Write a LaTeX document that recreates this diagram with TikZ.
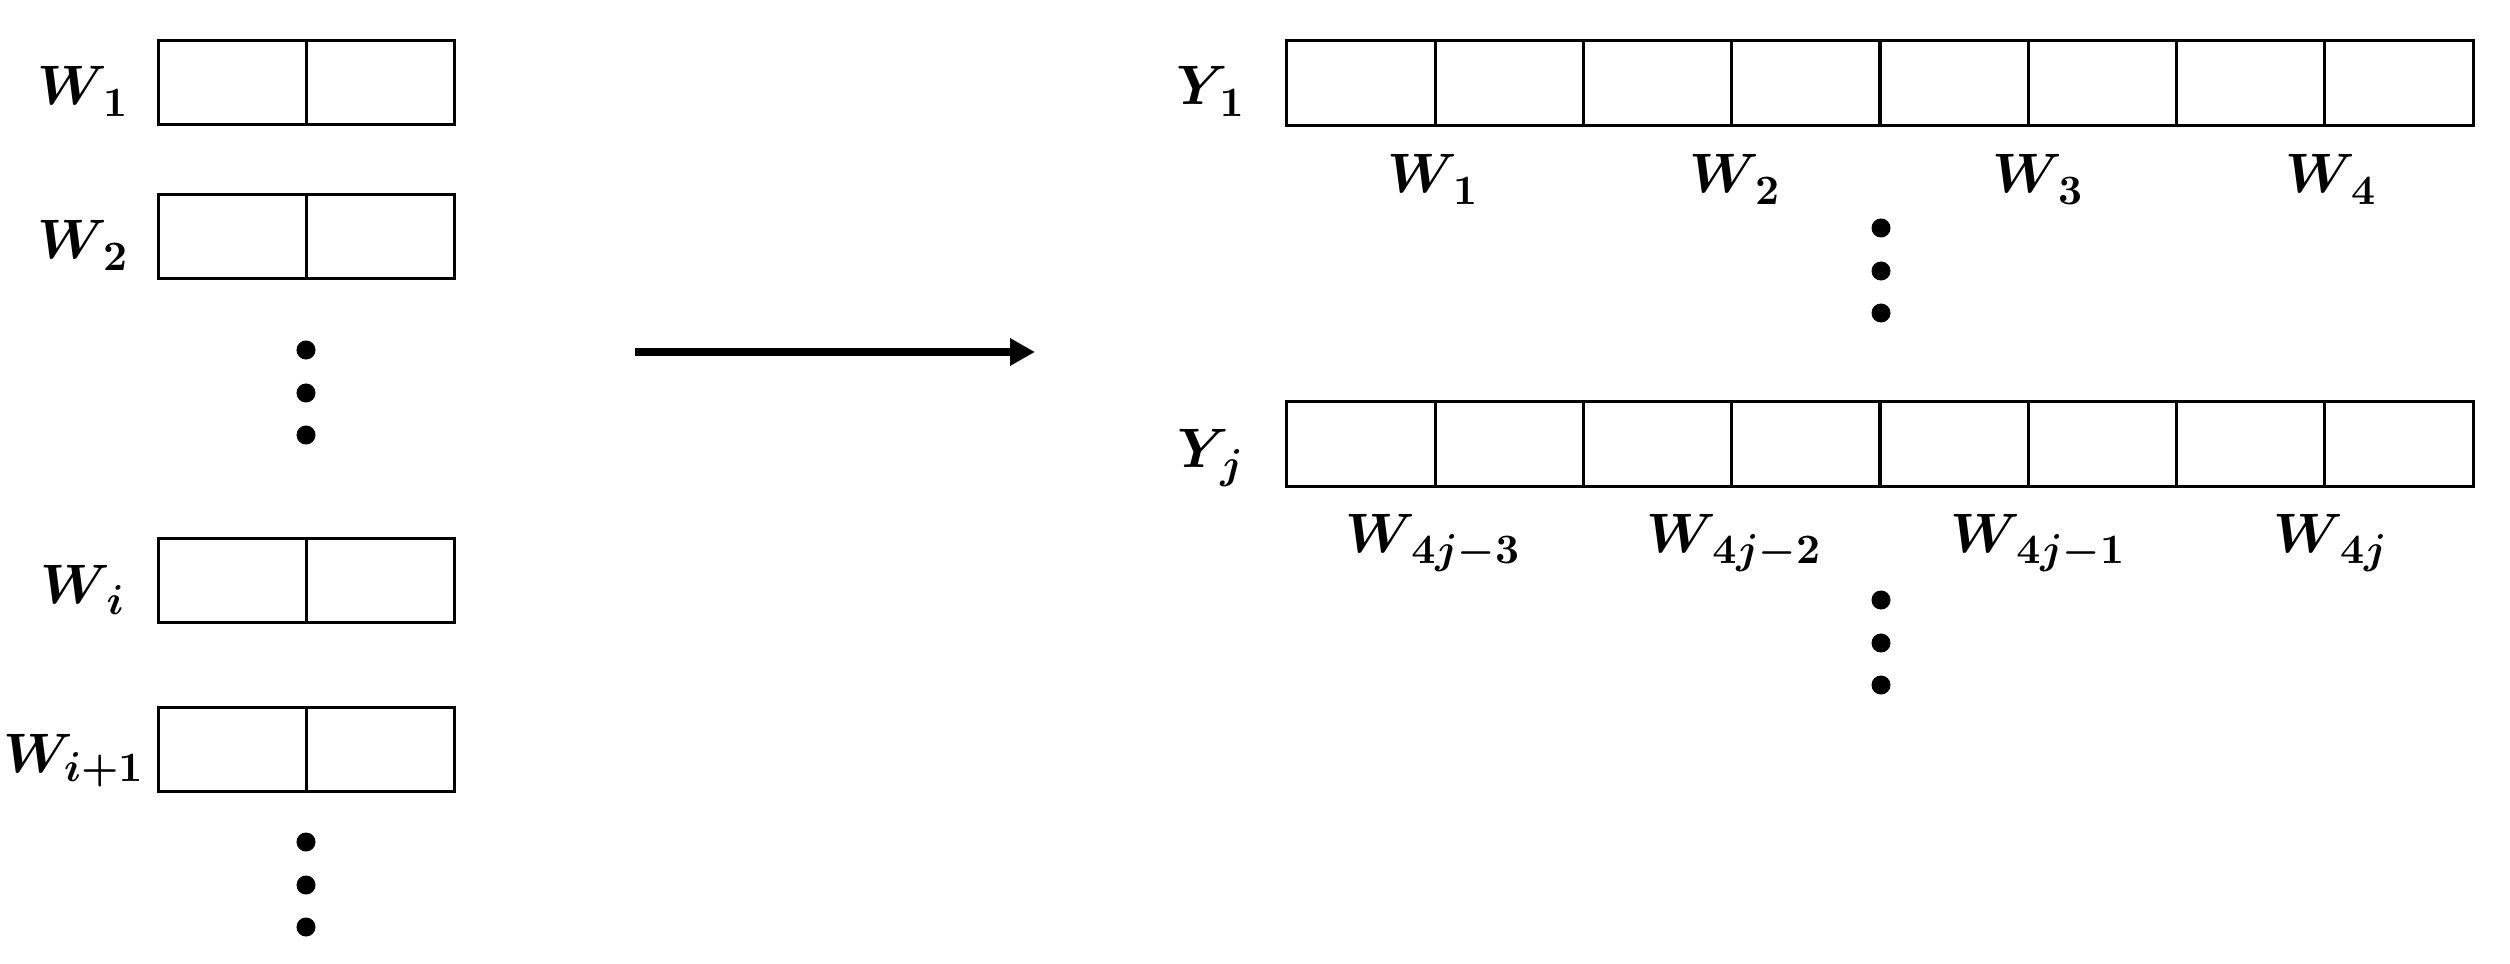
\documentclass[tikz,border=0pt]{standalone}
\usepackage{fix-cm}
\usepackage{amsmath}
\DeclareMathSizes{15.8}{15.8}{11.9}{9}
\usetikzlibrary{arrows.meta}
\tikzset{
  cellL/.style={draw=black, line width=0.85pt, minimum width=1.475cm, minimum height=0.83cm, inner sep=0pt, outer sep=0pt},
  cellR/.style={draw=black, line width=0.85pt, minimum width=1.4825cm, minimum height=0.84cm, inner sep=0pt, outer sep=0pt},
  lab/.style={anchor=base, inner sep=0pt, font=\fontsize{15.8}{19}\selectfont\boldmath},
  dotc/.style={circle, fill=black, inner sep=0pt, minimum size=0.19cm},
  bigarrow/.style={line width=2.5pt, -{Triangle[length=7.1pt,width=7.4pt]}}
}
\newcommand{\wsub}[2]{#1_{\mkern2mu\smash[t]{#2}\vphantom{)}}}
\begin{document}
\begin{tikzpicture}[x=0.01cm, y=-0.01cm]
\useasboundingbox (0,0) rectangle (2510,964);
% left column boxes
\foreach \n/\yc in {a/82.5, b/236.5, c/580.5, d/749.5}{
  \node[cellL] (L\n1) at (232.75,\yc) {};
  \node[cellL] (L\n2) at (380.25,\yc) {};
}
% left labels
\node[lab] (lw1) at (83,105) {$\wsub{W}{1}$};
\node[lab] (lw2) at (83,259) {$\wsub{W}{2}$};
\node[lab] (lwi) at (83,603) {$\wsub{W}{i}$};
\node[lab, anchor=base east] (lwi1) at (145,772) {$W_{i+1}\vphantom{)}$};
% left dots
\foreach \k/\yy in {1/350, 2/393, 3/435}{ \node[dotc] (ldA\k) at (306,\yy) {}; }
\foreach \k/\yy in {1/842, 2/885, 3/927}{ \node[dotc] (ldB\k) at (306,\yy) {}; }
% arrow
\coordinate (as) at (635,352);
\coordinate (ae) at (1035,352);
\draw[bigarrow] (as) -- (ae);
% right rows
\foreach \k in {1,...,8}{
  \pgfmathsetmacro{\xc}{1287+148.25*(\k-0.5)}
  \node[cellR] (Ra\k) at (\xc,83) {};
  \node[cellR] (Rb\k) at (\xc,444) {};
}
% row labels
\node[lab] (ly1) at (1211,105) {$\wsub{Y}{1}$};
\node[lab] (lyj) at (1211,467) {$\wsub{Y}{j}$};
% W labels under rows
\node[lab] (ra1) at (1433,193) {$\wsub{W}{1}$};
\node[lab] (ra2) at (1735,193) {$\wsub{W}{2}$};
\node[lab] (ra3) at (2038,193) {$\wsub{W}{3}$};
\node[lab] (ra4) at (2331,193) {$\wsub{W}{4}$};
\node[lab] (rb1) at (1433,552) {$\wsub{W}{4j-3}$};
\node[lab] (rb2) at (1734,552) {$\wsub{W}{4j-2}$};
\node[lab] (rb3) at (2038,552) {$\wsub{W}{4j-1}$};
\node[lab] (rb4) at (2331,552) {$\wsub{W}{4j}$};
% right dots
\foreach \k/\yy in {1/228, 2/271, 3/313}{ \node[dotc] (rdA\k) at (1881,\yy) {}; }
\foreach \k/\yy in {1/600, 2/643, 3/685}{ \node[dotc] (rdB\k) at (1881,\yy) {}; }
\end{tikzpicture}
\end{document}
